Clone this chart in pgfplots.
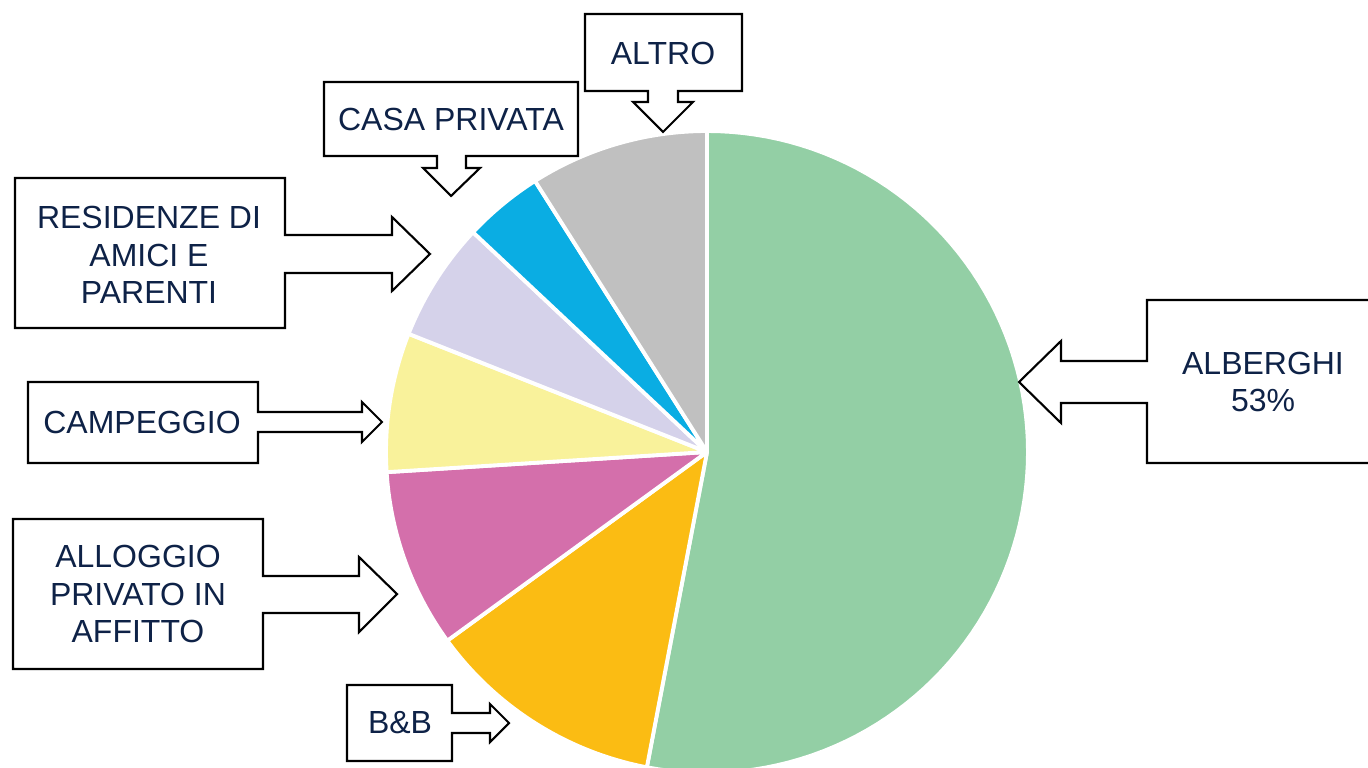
\documentclass[border=0pt]{standalone}
\usepackage{fontspec}
\setmainfont{Liberation Sans}
\usepackage{pgfplots}
\pgfplotsset{compat=1.18}

\definecolor{cAlb}{HTML}{93CFA5}
\definecolor{cBB}{HTML}{FBBC13}
\definecolor{cAll}{HTML}{D46FAB}
\definecolor{cCamp}{HTML}{F9F29B}
\definecolor{cRes}{HTML}{D5D2EA}
\definecolor{cCasa}{HTML}{0AADE3}
\definecolor{cAltro}{HTML}{C0C0C0}
\definecolor{txt}{HTML}{0E2247}

% slice: colour, cumulative % start, cumulative % end (clockwise from top)
\newcommand{\slice}[3]{%
  \addplot[fill=#1, draw=white, line width=1.1pt, line join=round, domain={90-3.6*(#3)}:{90-3.6*(#2)}, samples=90]
    ({707+321*cos(x)},{-452+321*sin(x)}) -- (707,-452) -- cycle;}

\begin{document}
\begin{tikzpicture}
\begin{axis}[
    hide axis,
    scale only axis,
    width=13.68cm, height=7.67cm,
    xmin=0, xmax=1368, ymin=-767, ymax=0,
    clip=true,
]
% shares: 53, 12, 9, 7, 6, 4, 9
\slice{cAlb}{0}{53}
\slice{cBB}{53}{65}
\slice{cAll}{65}{74}
\slice{cCamp}{74}{81}
\slice{cRes}{81}{87}
\slice{cCasa}{87}{91}
\slice{cAltro}{91}{100}

\begin{scope}[draw=black, fill=white, line width=0.6pt, line join=miter]
\filldraw (1147,-300) -- (1380,-300) -- (1380,-463) -- (1147,-463) -- (1147,-403) -- (1061,-403) -- (1061,-423) -- (1019,-382) -- (1061,-341) -- (1061,-361) -- (1147,-361) -- cycle;
\filldraw (585,-14) -- (742,-14) -- (742,-91) -- (678,-91) -- (678,-102) -- (693,-102) -- (663,-132) -- (633,-102) -- (648,-102) -- (648,-91) -- (585,-91) -- cycle;
\filldraw (324,-82) -- (578,-82) -- (578,-156) -- (466,-156) -- (466,-168) -- (480,-168) -- (451,-196) -- (423,-168) -- (437,-168) -- (437,-156) -- (324,-156) -- cycle;
\filldraw (15,-178) -- (285,-178) -- (285,-235) -- (392,-235) -- (392,-217) -- (430,-254) -- (392,-291) -- (392,-273) -- (285,-273) -- (285,-328) -- (15,-328) -- cycle;
\filldraw (28,-382) -- (258,-382) -- (258,-412) -- (362,-412) -- (362,-402) -- (382,-422) -- (362,-442) -- (362,-432) -- (258,-432) -- (258,-463) -- (28,-463) -- cycle;
\filldraw (13,-519) -- (263,-519) -- (263,-576) -- (359,-576) -- (359,-557) -- (397,-594) -- (359,-632) -- (359,-613) -- (263,-613) -- (263,-669) -- (13,-669) -- cycle;
\filldraw (347,-685) -- (452,-685) -- (452,-713) -- (490,-713) -- (490,-704) -- (509,-723) -- (490,-742) -- (490,-733) -- (452,-733) -- (452,-761) -- (347,-761) -- cycle;
\end{scope}

\begin{scope}[every node/.style={align=center, text=txt, font=\fontsize{9.1}{10.6}\selectfont, inner sep=0pt}]
\node at (1263,-382) {ALBERGHI\\53\%};
\node at (663,-53) {ALTRO};
\node at (451,-119) {CASA PRIVATA};
\node at (149,-255) {RESIDENZE DI\\AMICI E\\PARENTI};
\node at (142,-422) {CAMPEGGIO};
\node at (138,-594) {ALLOGGIO\\PRIVATO IN\\AFFITTO};
\node at (400,-723) {B\&B};
\end{scope}
\end{axis}
\pgfresetboundingbox
\useasboundingbox (current axis.south west) rectangle (current axis.north east);
\end{tikzpicture}
\end{document}
